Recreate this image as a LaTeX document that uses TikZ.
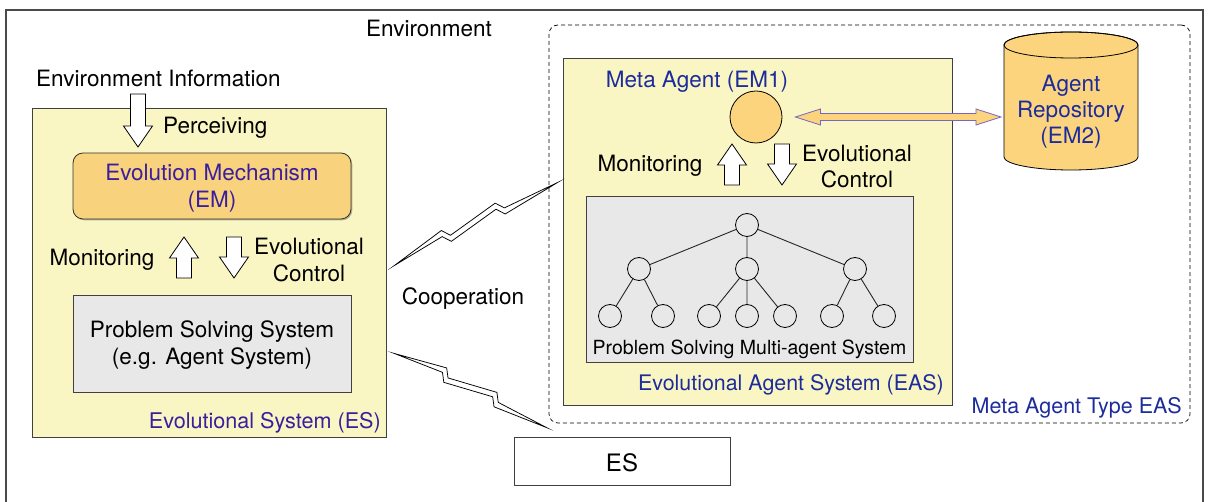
\documentclass[tikz,border=0pt]{standalone}
\usepackage{fontspec}
\setmainfont{TeX Gyre Heros}
\usetikzlibrary{calc,shadows}

\definecolor{paleyellow}{HTML}{FAF6C3}
\definecolor{emorange}{HTML}{F8D27C}
\definecolor{agentorange}{HTML}{FDD47E}
\definecolor{boxgray}{HTML}{E8E8E8}
\definecolor{labelpurple}{HTML}{3A1E9E}
\definecolor{labelblue}{HTML}{1C2C9C}
\definecolor{arrowpurple}{HTML}{7565C5}
\definecolor{framegray}{HTML}{4A4A4A}

\tikzset{
  lbl/.style={font=\fontsize{22.5}{27}\selectfont, inner sep=0pt, align=center, text=black, yshift=-2pt},
  purplelbl/.style={lbl, text=labelpurple},
  bluelbl/.style={lbl, text=labelblue},
  softshadow/.style={drop shadow={shadow xshift=1.3pt, shadow yshift=-1.3pt, opacity=0.28, fill=black}},
  sysbox/.style={draw=black!75, fill=paleyellow, line width=0.8pt, inner sep=0pt, softshadow},
  embox/.style={draw=black!80, fill=emorange, line width=0.8pt, rounded corners=10pt, inner sep=0pt, softshadow},
  graybox/.style={draw=black!75, fill=boxgray, line width=0.8pt, inner sep=0pt, softshadow},
  plainbox/.style={draw=black!75, fill=white, line width=0.8pt, inner sep=0pt, softshadow},
  metaframe/.style={draw=black, line width=0.7pt, dash pattern=on 4pt off 3pt, rounded corners=9pt},
  agent/.style={circle, draw=black, line width=0.8pt, minimum size=23pt, inner sep=0pt},
  treeedge/.style={line width=0.9pt, draw=black!85},
  blockarrow/.style={draw=black, fill=white, line width=0.8pt, line join=miter},
  dblarrow/.style={draw=arrowpurple, fill=agentorange, line width=0.8pt, line join=miter},
  boltline/.style={draw=black, line width=0.75pt, line join=miter, miter limit=40},
  pics/blockdown/.style={code={
    \draw[blockarrow] (-7.5,0) -- (7.5,0) -- (7.5,{#1}) -- (14.5,{#1})
      -- (0,{#1+21}) -- (-14.5,{#1}) -- (-7.5,{#1}) -- cycle;}},
  pics/blockup/.style={code={
    \draw[blockarrow] (0,0) -- (14.5,21) -- (7.5,21) -- (7.5,{21+#1})
      -- (-7.5,{21+#1}) -- (-7.5,21) -- (-14.5,21) -- cycle;}},
}

% lightning ribbon between two coordinates: a thin band with two forward steps
\newcommand\lightning[2]{%
  \draw[boltline] (#1)
    -- ($(#1)!.315!(#2)!9.9pt!90:(#2)$)
    -- ($(#1)!.348!(#2)!1.5pt!90:(#2)$)
    -- ($(#1)!.645!(#2)!9.9pt!90:(#2)$)
    -- ($(#1)!.678!(#2)!1.5pt!90:(#2)$)
    -- (#2)
    -- ($(#1)!.667!(#2)!4.3pt!-90:(#2)$)
    -- ($(#1)!.634!(#2)!4.1pt!90:(#2)$)
    -- ($(#1)!.337!(#2)!4.3pt!-90:(#2)$)
    -- ($(#1)!.304!(#2)!4.1pt!90:(#2)$)
    -- cycle;}

\begin{document}
\begin{tikzpicture}[x=1pt, y=-1pt]
\useasboundingbox (0,0) rectangle (1211,502);
\clip (0,0) rectangle (1211,502);
\fill[white] (0,0) rectangle (1211,502);

% environment frame
\draw[framegray, line width=1.2pt] (6,10) rectangle (1203,530);
\node[lbl] (env) at (429,26) {Environment};

% ---------- evolutional system (left) ----------
\node[sysbox, minimum width=354pt, minimum height=329pt] (es) at (209,272.5) {};
\node[lbl, anchor=west] (envinfo) at (36,76) {Environment Information};
\pic at (138,94) {blockdown=32};
\node[lbl, anchor=west] (perc) at (163,126) {Perceiving};

\node[embox, minimum width=278pt, minimum height=66pt] (em) at (212,186) {};
\node[purplelbl] (emtxt) at (em.center) {Evolution Mechanism\\(EM)};

\node[lbl] (mon1) at (102,258) {Monitoring};
\pic at (184,237) {blockup=20};
\pic at (234,237) {blockdown=20};
\node[lbl, font=\fontsize{22.5}{26.5}\selectfont] (ctl1) at (309,258) {Evolutional\\Control};

\node[graybox, minimum width=278pt, minimum height=97pt] (pss) at (212,343.5) {};
\node[lbl] (psstxt) at (pss.center) {Problem Solving System\\(e.g. Agent System)};
\node[purplelbl, anchor=east, font=\fontsize{21.6}{26}\selectfont] (eslbl) at (381,421) {Evolutional System (ES)};

% ---------- meta agent type EAS (right) ----------
\node[metaframe, minimum width=641pt, minimum height=398pt, inner sep=0pt] (meta) at (869.5,224) {};
\node[sysbox, minimum width=389pt, minimum height=347pt] (eas) at (757.5,231.5) {};

\node[bluelbl] (em1lbl) at (697,80) {Meta Agent (EM1)};
\node[circle, draw=black, line width=0.8pt, fill=agentorange, minimum size=52pt, inner sep=0pt] (em1) at (756,117) {};

\node[lbl] (mon2) at (650,164) {Monitoring};
\pic at (732,144) {blockup=20};
\pic at (782,144) {blockdown=20};
\node[lbl, font=\fontsize{22.5}{26}\selectfont] (ctl2) at (857,164.5) {Evolutional\\Control};

% agent repository cylinder
\fill[agentorange, draw=black, line width=0.8pt]
  (1004,45) -- (1004,157) arc[start angle=180, end angle=0, x radius=67, y radius=13]
  -- (1138,45) arc[start angle=0, end angle=-180, x radius=67, y radius=13] -- cycle;
\draw[line width=0.8pt] (1071,45) ellipse [x radius=67, y radius=13];
\node[bluelbl, font=\fontsize{22.5}{26}\selectfont] (repo) at (1071,110) {Agent\\Repository\\(EM2)};

% link between meta agent and repository
\coordinate (lnkL) at ($(em1.east)+(13,0)$);
\coordinate (lnkR) at (1001,117);
\draw[dblarrow] (lnkL) -- ++(25,-8) -- ++(0,4.5) -- ($(lnkR)+(-25,-3.5)$) -- ++(0,-4.5)
  -- (lnkR) -- ++(-25,8) -- ++(0,-4.5) -- ($(lnkL)+(25,3.5)$) -- ++(0,4.5) -- cycle;

% problem solving multi-agent system
\node[graybox, minimum width=327pt, minimum height=166pt] (psms) at (749.5,279) {};
\node[agent] (r)   at (747,225) {};
\node[agent] (c1)  at (639,269) {};
\node[agent] (c2)  at (747,269) {};
\node[agent] (c3)  at (855,269) {};
\node[agent] (l1)  at (610,316) {};
\node[agent] (l2)  at (663,316) {};
\node[agent] (l3)  at (709,316) {};
\node[agent] (l4)  at (747,316) {};
\node[agent] (l5)  at (785,316) {};
\node[agent] (l6)  at (832,316) {};
\node[agent] (l7)  at (884,316) {};
\draw[treeedge] (r) -- (c1) (r) -- (c2) (r) -- (c3)
  (c1) -- (l1) (c1) -- (l2)
  (c2) -- (l3) (c2) -- (l4) (c2) -- (l5)
  (c3) -- (l6) (c3) -- (l7);
\node[lbl, font=\fontsize{19.5}{23}\selectfont] (psmstxt) at (749.5,347) {Problem Solving Multi-agent System};

\node[bluelbl, anchor=east, font=\fontsize{21.4}{25}\selectfont] (easlbl) at (944,383) {Evolutional Agent System (EAS)};
\node[bluelbl, anchor=east, font=\fontsize{21.5}{25}\selectfont] (metalbl) at (1182,406) {Meta Agent Type EAS};

% ---------- cooperating ES ----------
\node[plainbox, minimum width=216pt, minimum height=48pt] (es2) at (622,461) {};
\node[lbl, font=\fontsize{24}{28}\selectfont] (es2txt) at (es2.center) {ES};

\node[lbl] (coop) at (463,297) {Cooperation};

\coordinate (bolt1a) at ($(es.east)+(8,-7)$);
\coordinate (bolt1b) at ($(eas.west)+(-5,-49)$);
\coordinate (bolt2a) at ($(es.east)+(8,81)$);
\coordinate (bolt2b) at ($(es2.north west)+(33,-9)$);
\lightning{bolt1a}{bolt1b}
\lightning{bolt2a}{bolt2b}
\end{tikzpicture}
\end{document}
